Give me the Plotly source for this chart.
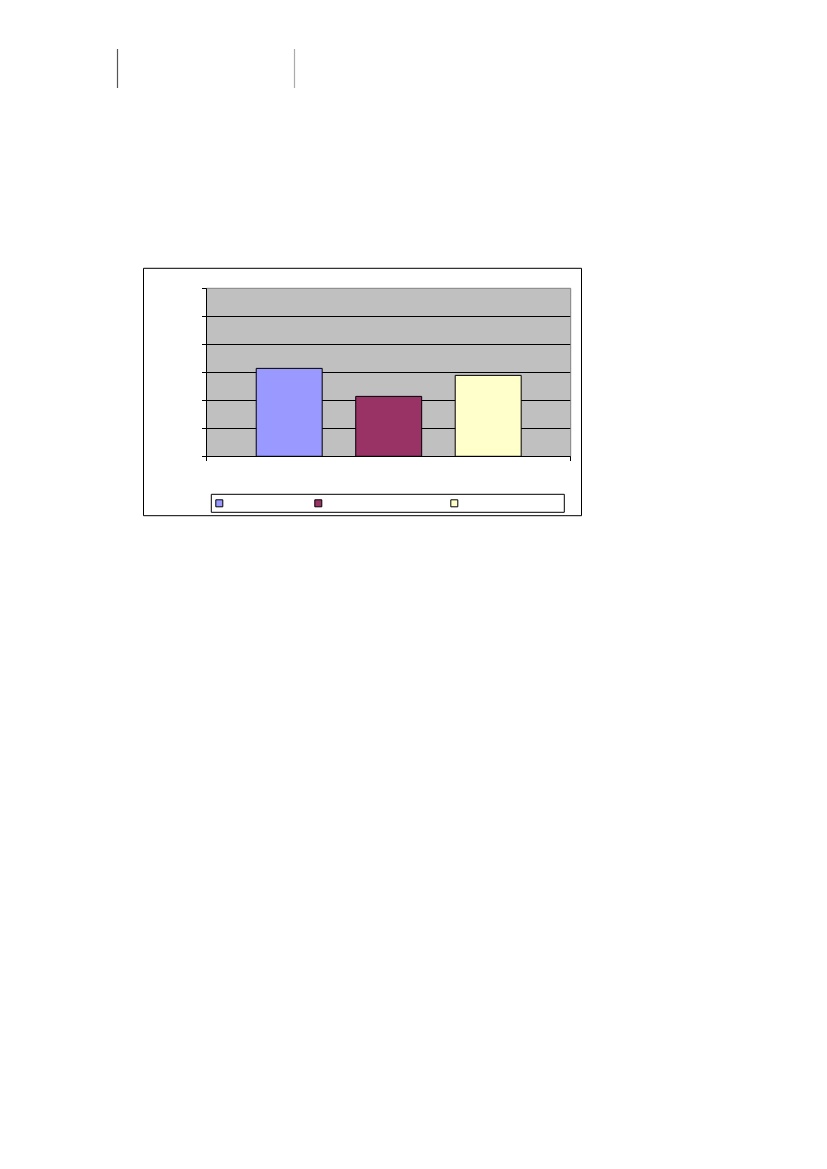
import plotly.graph_objects as go

# data (no labels visible in the reference)
categories = ['Group']
series_names = ['Series 1', 'Series 2', 'Series 3']
series_values = [3.14, 2.14, 2.89]
series_colors = ['#9999FF', '#993366', '#FFFFCC']
y_ticks = [0, 1, 2, 3, 4, 5, 6]

W, H = 827, 1169
OFF = 8  # default body margin of the page

def px(x):
    return (x - OFF) / W

def py(y):
    return (H - (y - OFF)) / H

fig = go.Figure()

for name, val, color in zip(series_names, series_values, series_colors):
    fig.add_trace(go.Bar(
        x=categories,
        y=[val],
        name=name,
        legendgroup=name,
        showlegend=False,
        marker=dict(color=color, line=dict(color='#000000', width=1))
    ))

# small square legend keys, one legend per entry to keep the uneven spacing
legend_x = [199.3, 298.3, 434.3]
for i, (name, color) in enumerate(zip(series_names, series_colors)):
    fig.add_trace(go.Scatter(
        x=[None],
        y=[None],
        mode='markers',
        name='',
        legendgroup=name,
        legend='legend' if i == 0 else 'legend%d' % (i + 1),
        marker=dict(symbol='square', size=7, color=color,
                    line=dict(color='#000000', width=1))
    ))

legend_style = dict(
    orientation='h',
    xanchor='left',
    yanchor='middle',
    y=py(503.3),
    bgcolor='rgba(0,0,0,0)',
    borderwidth=0,
    itemsizing='trace',
    itemwidth=30,
    font=dict(family='Arial', size=10, color='#000000')
)

shapes = [
    # chart frame
    dict(type='rect', xref='paper', yref='paper',
         x0=px(143.5), x1=px(581.5), y0=py(515.7), y1=py(268.3),
         line=dict(color='#000000', width=1), layer='below'),
    # legend box
    dict(type='rect', xref='paper', yref='paper',
         x0=px(211.3), x1=px(564.3), y0=py(512.3), y1=py(494.3),
         line=dict(color='#000000', width=1), fillcolor='#FFFFFF', layer='below'),
    # plot area top and right edges
    dict(type='line', xref='paper', yref='paper',
         x0=px(206.7), x1=px(570.7), y0=py(288.3), y1=py(288.3),
         line=dict(color='#808080', width=1)),
    dict(type='line', xref='paper', yref='paper',
         x0=px(570.7), x1=px(570.7), y0=py(288.3), y1=py(456.3),
         line=dict(color='#808080', width=1)),
    # page marks at top
    dict(type='line', xref='paper', yref='paper',
         x0=px(117.5), x1=px(117.5), y0=py(49), y1=py(88),
         line=dict(color='#555555', width=1.2)),
    dict(type='line', xref='paper', yref='paper',
         x0=px(294.5), x1=px(294.5), y0=py(49), y1=py(88),
         line=dict(color='#AAAAAA', width=1.2)),
]

fig.update_layout(
    width=W,
    height=H,
    margin=dict(l=0, r=0, t=0, b=0),
    paper_bgcolor='#FFFFFF',
    plot_bgcolor='#C0C0C0',
    barmode='group',
    bargap=0.18,
    bargroupgap=0.337,
    shapes=shapes,
    legend=dict(legend_style, x=px(legend_x[0])),
    legend2=dict(legend_style, x=px(legend_x[1])),
    legend3=dict(legend_style, x=px(legend_x[2])),
    xaxis=dict(
        domain=[px(206.7), px(570.7)],
        range=[-0.5, 0.5],
        showticklabels=False,
        showgrid=False,
        showline=True,
        linecolor='#000000',
        linewidth=1,
        ticks='outside',
        tickson='boundaries',
        ticklen=4,
        tickcolor='#000000'
    ),
    yaxis=dict(
        domain=[py(456.3), py(288.3)],
        range=[0, 6],
        tickvals=y_ticks,
        showticklabels=False,
        showgrid=True,
        gridcolor='#000000',
        gridwidth=1,
        zeroline=False,
        showline=True,
        linecolor='#000000',
        linewidth=1,
        ticks='outside',
        ticklen=4,
        tickcolor='#000000'
    )
)

fig.write_html('out.html')
